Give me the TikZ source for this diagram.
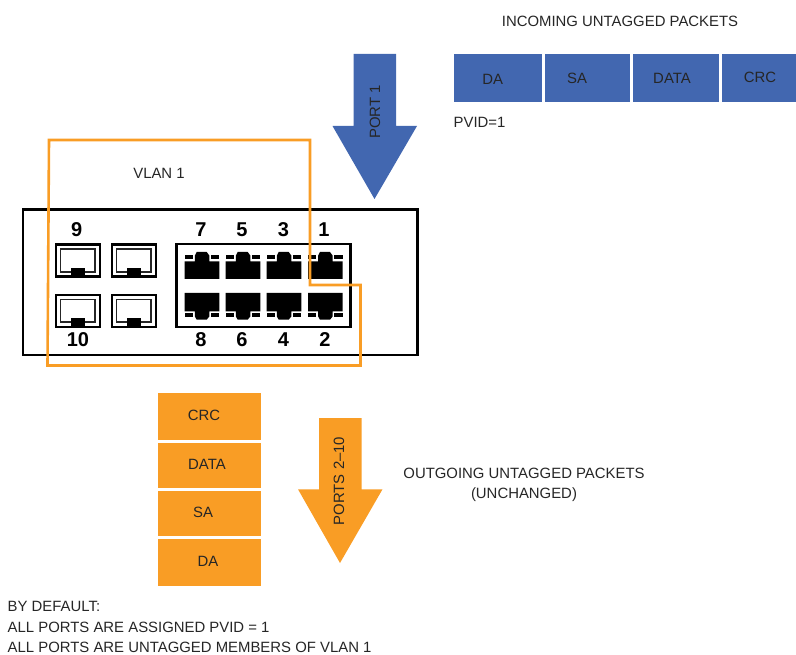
\documentclass[tikz,border=0pt]{standalone}
\usepackage{fontspec}
\setmainfont{Liberation Sans}
\definecolor{pblue}{HTML}{4267B0}
\definecolor{porange}{HTML}{F99D25}
\definecolor{ink}{HTML}{262626}
\tikzset{
  lab/.style={font=\fontsize{14.9}{17}\selectfont, text=ink, inner sep=0pt},
  num/.style={font=\fontsize{20}{22}\selectfont\bfseries, text=black, inner sep=0pt},
  bluebox/.style={fill=pblue, draw=none},
  orangebox/.style={fill=porange, draw=none},
  frameline/.style={draw=black, line width=2.6pt},
  vlanline/.style={draw=porange, line width=2.6pt, line join=miter},
}
\begin{document}
\begin{tikzpicture}[x=1pt,y=-1pt]
\useasboundingbox (0,0) rectangle (796,655);
% incoming
\node[lab] (title) at (620,21.8) {INCOMING UNTAGGED PACKETS};
\fill[bluebox] (353.5,54) -- (396,54) -- (396,126) -- (417,126) -- (374.5,199) -- (332.5,126) -- (353.5,126) -- cycle;
\node[lab, rotate=90] (port1) at (375,112) {PORT 1};
\fill[bluebox] (454,54) rectangle (541.5,102);
\fill[bluebox] (544.5,54) rectangle (630,102);
\fill[bluebox] (633,54) rectangle (718.5,102);
\fill[bluebox] (721.5,54) rectangle (796,102);
\node[lab] (ida) at (492.7,79.8) {DA};
\node[lab] (isa) at (577,78.3) {SA};
\node[lab] (idata) at (672,78.8) {DATA};
\node[lab] (icrc) at (760,77.8) {CRC};
\node[lab, anchor=west] (pvid) at (453.5,122.8) {PVID=1};
\node[lab] (vlan) at (159,173.8) {VLAN 1};
% switch
\draw[frameline] (23,209.7) rectangle (417.7,355);
\draw[frameline] (176.7,244) rectangle (350.3,327);
% SFP cages
\foreach \x/\t in {55/71,111/127}{
  \foreach \y in {243.7,294}{
    \draw[black, line width=2.6pt] (\x+1,\y+1) rectangle (\x+45,\y+33);
    \draw[black!85, line width=1.8pt] (\x+5.5,\y+5.5) rectangle (\x+40,\y+28);
    \fill[black] (\t,\y+24.5) rectangle (\t+14,\y+33.5);
  }
}
% RJ45 ports
\foreach \x in {184.7,225.7,266.7,308}{
  \fill[black] (\x,261.4) -- (\x+10.2,261.4) -- (\x+10.2,255.5) -- (\x+12,252) -- (\x+22,252) -- (\x+24.6,255.5) -- (\x+24.6,261.4) -- (\x+34.6,261.4) -- (\x+34.6,278.8) -- (\x,278.8) -- cycle;
  \fill[black] (\x,254.7) rectangle (\x+8,258.7);
  \fill[black] (\x+26.2,254.7) rectangle (\x+34.6,258.7);
  \fill[black] (\x,293) -- (\x+34.6,293) -- (\x+34.6,311.3) -- (\x+24.6,311.3) -- (\x+24.6,316.5) -- (\x+22,319.7) -- (\x+12,319.7) -- (\x+10.2,316.5) -- (\x+10.2,311.3) -- (\x,311.3) -- cycle;
  \fill[black] (\x,313) rectangle (\x+8,316.8);
  \fill[black] (\x+26.2,313) rectangle (\x+34.6,316.8);
}
\node[num] (n9) at (76.7,229.5) {9};
\node[num] (n7) at (201,229.5) {7};
\node[num] (n5) at (242,229.5) {5};
\node[num] (n3) at (283.5,229.5) {3};
\node[num] (n1) at (324,229.5) {1};
\node[num] (n10) at (78,340) {10};
\node[num] (n8) at (201,340) {8};
\node[num] (n6) at (242,340) {6};
\node[num] (n4) at (283.5,340) {4};
\node[num] (n2) at (325,340) {2};
% VLAN outline
\draw[vlanline] (49,140) -- (310,140) -- (310,285) -- (360.5,285) -- (360.5,365.5) -- (47.5,365.5) -- cycle;
% outgoing
\fill[orangebox] (158,393) rectangle (261,440);
\fill[orangebox] (158,443) rectangle (261,488);
\fill[orangebox] (158,491) rectangle (261,536);
\fill[orangebox] (158,539) rectangle (261,586);
\node[lab] (ocrc) at (204,415.8) {CRC};
\node[lab] (odata) at (207,464.8) {DATA};
\node[lab] (osa) at (203,512.8) {SA};
\node[lab] (oda) at (208,561.8) {DA};
\fill[orangebox] (319,418) -- (361.5,418) -- (361.5,489.3) -- (382.5,489.3) -- (340,563) -- (298,489.3) -- (319,489.3) -- cycle;
\node[lab, rotate=90] (ports) at (339,481) {PORTS 2–10};
\node[lab] (out1) at (524,473.8) {OUTGOING UNTAGGED PACKETS};
\node[lab] (out2) at (524,494.8) {(UNCHANGED)};
\node[lab, anchor=west] (d1) at (7.5,606) {BY DEFAULT:};
\node[lab, anchor=west] (d2) at (7.5,627) {ALL PORTS ARE ASSIGNED PVID = 1};
\node[lab, anchor=west] (d3) at (7.5,647) {ALL PORTS ARE UNTAGGED MEMBERS OF VLAN 1};
\end{tikzpicture}
\end{document}
